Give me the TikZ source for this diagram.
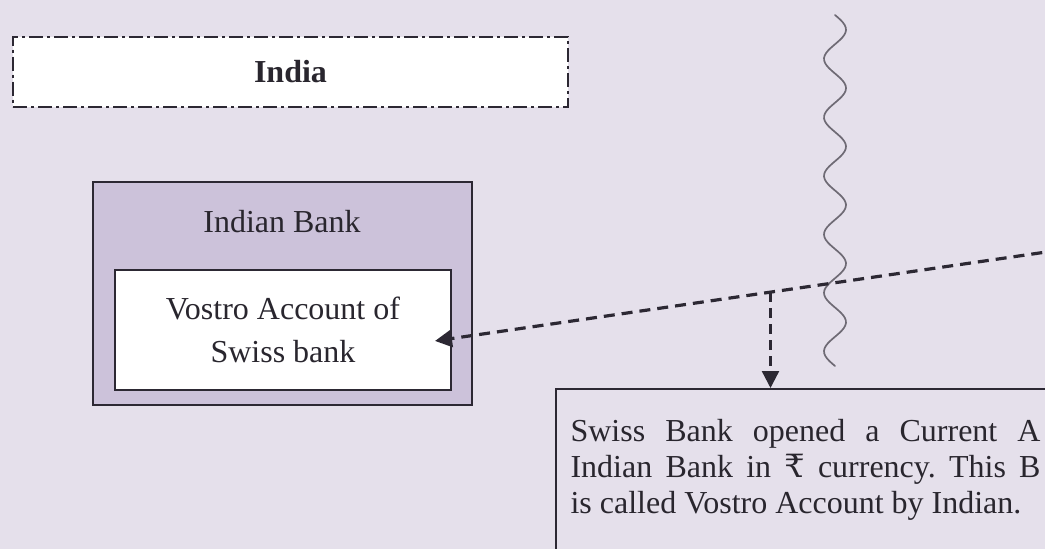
\documentclass[tikz,border=0pt]{standalone}
\usepackage{fontspec}
\setmainfont{Liberation Serif}
\newfontfamily\rupeefont{DejaVu Serif}
\usepackage{xcolor}
\definecolor{pageBack}{HTML}{E5E0EB}
\definecolor{bankBack}{HTML}{CCC2DA}
\definecolor{edgeDark}{HTML}{2C2833}
\definecolor{waveGrey}{HTML}{6E6A74}
\definecolor{inkText}{HTML}{29262E}
\usetikzlibrary{arrows.meta, positioning, calc}
\frenchspacing

\begin{document}
\begin{tikzpicture}[x=1pt, y=-1pt,
    txt/.style={font=\fontsize{32}{36}\selectfont, text=inkText},
    boxline/.style={draw=edgeDark, line width=1.6pt},
    link/.style={draw=edgeDark, line width=3.2pt, dash pattern=on 11pt off 7pt,
        -{Triangle[length=17pt, width=17pt]}}]
    % canvas, cut off on the right like the source
    \fill[pageBack] (0,0) rectangle (1045,549);
    \clip (0,0) rectangle (1045,549);
    % country banner
    \node[txt, font=\fontsize{32}{36}\selectfont\bfseries, fill=white, draw=edgeDark,
        line width=2pt, dash pattern=on 14pt off 4pt on 3pt off 4pt,
        minimum width=555pt, minimum height=70pt] (india) at (290.5,71.5) {India};
    % the bank and the account it keeps
    \node[boxline, fill=bankBack, minimum width=379pt, minimum height=223pt] (bank) at (282.5,293.5) {};
    \node[txt] (bankName) at (282,222) {Indian Bank};
    \node[boxline, fill=white, txt, font=\fontsize{32}{43}\selectfont, align=center,
        minimum width=336pt, minimum height=120pt] (vostro) at (283,330) {Vostro Account of\\Swiss bank};
    % border between the two countries
    \draw[waveGrey, line width=1.7pt, line cap=round]
        plot[variable=\t, domain=0:351, samples=140, smooth] ({835+11*sin(\t/58.5*360)}, {15+\t});
    % explanation
    \node[boxline, anchor=north west, minimum width=560pt, minimum height=220pt] (note) at (555,388) {};
    \node[txt, anchor=base west, align=left] (noteText) at ([xshift=12pt, yshift=-125pt]note.north west)
        {\makebox[470pt][s]{Swiss Bank opened a Current A}\\
         \makebox[470pt][s]{Indian Bank in {\rupeefont ₹} currency. This B}\\
         is called Vostro Account by Indian.};
    % account link and its call-out
    \coordinate (farEnd) at (1060,250);
    \coordinate (vostroIn) at ([yshift=-8.5pt]vostro.east);
    \coordinate (fork) at ($(farEnd)!0.476!(vostroIn)$);
    \draw[link, shorten >=-17pt] (farEnd) -- (vostroIn);
    \draw[link, line width=2.4pt, dash pattern=on 10pt off 6pt] (fork) -- (fork |- note.north);
\end{tikzpicture}
\end{document}
